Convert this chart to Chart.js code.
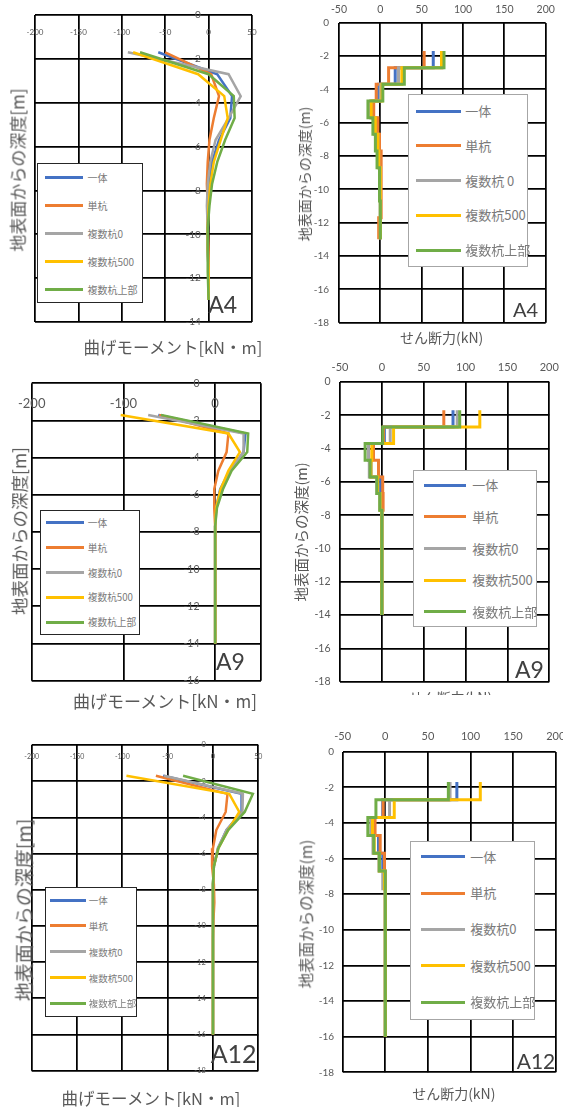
<!DOCTYPE html>
<html lang="ja">
<head>
<meta charset="utf-8">
<title>杭の曲げモーメント・せん断力分布</title>
<script src="https://cdn.jsdelivr.net/npm/chart.js@4.4.1/dist/chart.umd.min.js"></script>
<style>
  html, body { margin: 0; padding: 0; background: #fff; }
  body { position: relative; width: 563px; height: 1107px; overflow: hidden;
         font-family: "Noto Sans CJK JP", "Noto Sans", sans-serif; }
  .panel { position: absolute; }
  .panel canvas { position: absolute; left: 0; top: 0; }
  .axis-title { position: absolute; color: #595959; white-space: nowrap; line-height: 1;
                transform: translate(-50%, -50%); }
  .axis-title.vertical { transform: translate(-50%, -50%) rotate(-90deg); }
  .clip { position: absolute; overflow: hidden; }
  .legend { position: absolute; box-sizing: border-box; background: #fff; }
  .legend .item { position: absolute; left: 0; right: 0; height: 16px; }
  .legend .swatch { position: absolute; top: 6.5px; height: 3px; }
  .legend .label { position: absolute; top: 0; line-height: 16px; color: #7a7a7a; white-space: nowrap; }
  .tag { position: absolute; font-family: Lato, sans-serif; color: #404040; line-height: 1; white-space: nowrap; }
</style>
</head>
<body>
<script>
// 系列名と色
const seriesNames = ['一体', '単杭', '複数杭0', '複数杭500', '複数杭上部'];
const seriesNamesA4Shear = ['一体', '単杭', '複数杭 0', '複数杭500', '複数杭上部'];
const seriesColors = ['#4472C4', '#ED7D31', '#A5A5A5', '#FFC000', '#70AD47'];

// 深度 (m)
const depthA4 = [-1.7, -2.7, -3.7, -4.7, -5.7, -6.7, -7.7, -8.7, -9.7, -10.7, -11.7, -13];
const depthA9 = [-1.7, -2.7, -3.7, -4.7, -5.7, -6.7, -7.7, -8.7, -9.7, -10.7, -11.7, -12.7, -13.7, -14];
const depthA12 = [-1.7, -2.7, -3.7, -4.7, -5.7, -6.7, -7.7, -8.7, -9.7, -10.7, -11.7, -12.7, -13.7, -14.7, -15.7, -16];

// A4 曲げモーメント (kN・m)
const a4MomIttai   = [-58, 10, 27, 25, 12, 4, 0, -1, -1, -1, 0, 0];
const a4MomTangui  = [-50, 3, 12, 6, 1, -1, -2, -1, -1, 0, 0, 0];
const a4MomFuku0   = [-93, 23, 37, 23, 8, 2, -1, -2, -1, -1, 0, 0];
const a4MomFuku500 = [-87, -12, 18, 22, 14, 6, 2, 0, -1, -1, 0, 0];
const a4MomFukuTop = [-79, 0, 29, 30, 19, 10, 4, 1, -1, -1, -1, 0];

// A4 せん断力 (kN) 各区間の上端の値、最後は杭先端
const a4ShrIttai   = [64, 18, -2, -10, -5, -3, -1, 0, 0, 0, 0, 0];
const a4ShrTangui  = [53, 10, -5, -8, -3, -1, 1, 1, 1, 1, -2, -2];
const a4ShrFuku0   = [75, 22, 0, -12, -7, -3, -2, 0, 0, 0, 0, 0];
const a4ShrFuku500 = [74, 26, 2, -11, -6, -3, -2, 0, 0, 0, 0, 0];
const a4ShrFukuTop = [77, 29, 3, -15, -9, -6, -4, -1, -1, 0, 0, 0];

// A9 曲げモーメント
const a9MomIttai   = [-62, 33, 31, 16, 5.5, 1, 0, 0, 0, 0, 0, 0, 0, 0];
const a9MomTangui  = [-61, 14.5, 12.5, 3.5, -1, -1, 0, 0, 0, 0, 0, 0, 0, 0];
const a9MomFuku0   = [-73, 31, 31, 16, 6, 1.5, 0, 0, 0, 0, 0, 0, 0, 0];
const a9MomFuku500 = [-103, 14.5, 27, 14.5, 6, 1, 0, 0, 0, 0, 0, 0, 0, 0];
const a9MomFukuTop = [-59, 36, 35, 18, 8.5, 2, 0, 0, 0, 0, 0, 0, 0, 0];

// A9 せん断力
const a9ShrIttai   = [85, 3, -16, -13, -1.5, -2, 0, 0, 0, 0, 0, 0, 0, 0];
const a9ShrTangui  = [74, 2, -10, -4, 1, 1.5, 0, 0, 0, 0, 0, 0, 0, 0];
const a9ShrFuku0   = [90, 10, -16, -15, -6, -2, 0, 0, 0, 0, 0, 0, 0, 0];
const a9ShrFuku500 = [117, 14, -12, -13, -5, -2, 0, 0, 0, 0, 0, 0, 0, 0];
const a9ShrFukuTop = [93, 1, -20, -14, -6, -2.5, 0, 0, 0, 0, 0, 0, 0, 0];

// A12 曲げモーメント
const a12MomIttai   = [-55, 31.5, 31.5, 15, 5.5, 1, 0, 0, 0, 0, 0, 0, 0, 0, 0, 0];
const a12MomTangui  = [-63, 16, 14, 3.7, 0, -1, 1, 1.5, 0.5, 0, 0, 0, 0, 0, 0, 0];
const a12MomFuku0   = [-54, 33, 32.5, 15, 5.5, 1, 0, 0, 0, 0, 0, 0, 0, 0, 0, 0];
const a12MomFuku500 = [-95.5, 18, 29, 16.7, 6, 1, 0, 0, 0, 0, 0, 0, 0, 0, 0, 0];
const a12MomFukuTop = [-33, 44, 35, 16.7, 6, 1, 0, 0, 0, 0, 0, 0, 0, 0, 0, 0];

// A12 せん断力
const a12ShrIttai   = [84, -3, -13, -8, -3, -1, 0, 0, 0, 0, 0, 0, 0, 0, 0, 0];
const a12ShrTangui  = [75, -2.5, -12, -6, -1, 0, 0, 0, 0, 0, 0, 0, 0, 0, 0, 0];
const a12ShrFuku0   = [76, 5, -17, -14.5, -7.5, -3, 0, 0, 0, 0, 0, 0, 0, 0, 0, 0];
const a12ShrFuku500 = [111.5, 10.5, -15, -13, -7, -1, 0, 0, 0, 0, 0, 0, 0, 0, 0, 0];
const a12ShrFukuTop = [74, -11, -20.5, -13.5, -7, 0, 0, 0, 0, 0, 0, 0, 0, 0, 0, 0];

const tickColor = '#595959';
const gridOpts = { color: '#000', lineWidth: 1.75, drawTicks: false };

function toPoints(values, depths) {
    return values.map((v, i) => ({ x: v, y: depths[i] }));
}

// 曲げモーメント: 軸は 0 の位置で交差 (Excel 風)
function momentScales(p) {
    return {
        x: {
            type: 'linear', min: -200, max: 50, position: { y: 0 },
            border: { display: false },
            grid: gridOpts,
            ticks: {
                stepSize: p.xStep, padding: p.xPad, color: tickColor,
                autoSkip: false, maxRotation: 0, minRotation: 0,
                font: { family: 'Lato', size: p.xFont },
                callback: v => (p.hideX && p.hideX.includes(v)) ? '' : v
            }
        },
        y: {
            type: 'linear', min: p.yMin, max: 0, position: { x: p.yAt },
            border: { display: false },
            grid: gridOpts,
            ticks: {
                stepSize: 2, color: tickColor, autoSkip: false,
                font: { family: 'Lato', size: p.yFont }
            }
        }
    };
}

// せん断力: 目盛は外側 (上と左)
function shearScales(p) {
    return {
        x: {
            type: 'linear', min: -50, max: 200, position: 'top',
            border: { display: false },
            grid: gridOpts,
            ticks: {
                stepSize: 50, padding: p.xPad, color: tickColor,
                autoSkip: false, maxRotation: 0, minRotation: 0,
                font: { family: 'Lato', size: p.xFont }
            },
            afterFit: s => { s.height = p.axisH; s.paddingLeft = 0; s.paddingRight = 0; }
        },
        y: {
            type: 'linear', min: -18, max: 0, position: 'left',
            border: { display: false },
            grid: gridOpts,
            ticks: {
                stepSize: 2, padding: p.yPad, color: tickColor, autoSkip: false,
                font: { family: 'Lato', size: p.yFont }
            },
            afterFit: s => { s.width = p.axisW; s.paddingTop = 0; s.paddingBottom = 0; }
        }
    };
}

function addText(parent, cls, text, left, top, size) {
    const el = document.createElement('div');
    el.className = cls;
    el.textContent = text;
    el.style.left = left + 'px';
    el.style.top = top + 'px';
    el.style.fontSize = size + 'px';
    parent.appendChild(el);
    return el;
}

// HTML の凡例 (データセットから作る)
function buildLegend(chart, lg) {
    const box = document.createElement('div');
    box.className = 'legend';
    box.style.left = lg.x + 'px';
    box.style.top = lg.y + 'px';
    box.style.width = lg.w + 'px';
    box.style.height = lg.h + 'px';
    box.style.border = lg.border;
    chart.data.datasets.forEach((ds, i) => {
        const item = document.createElement('div');
        item.className = 'item';
        item.style.top = (lg.first + i * lg.step - 8 - 1.5) + 'px';
        const sw = document.createElement('span');
        sw.className = 'swatch';
        sw.style.left = (lg.lineX - 1.5) + 'px';
        sw.style.width = lg.lineW + 'px';
        sw.style.background = ds.borderColor;
        const lb = document.createElement('span');
        lb.className = 'label';
        lb.style.left = (lg.textX - 1.5) + 'px';
        lb.style.fontSize = lg.font + 'px';
        lb.textContent = ds.label;
        item.appendChild(sw);
        item.appendChild(lb);
        box.appendChild(item);
    });
    document.body.appendChild(box);
}

function addPanel(p) {
    const wrap = document.createElement('div');
    wrap.className = 'panel';
    wrap.style.left = p.box[0] + 'px';
    wrap.style.top = p.box[1] + 'px';
    wrap.style.width = p.box[2] + 'px';
    wrap.style.height = p.box[3] + 'px';
    const canvas = document.createElement('canvas');
    canvas.width = p.box[2];
    canvas.height = p.box[3];
    wrap.appendChild(canvas);
    document.body.appendChild(wrap);

    const datasets = p.series.map((vals, i) => ({
        label: p.names[i],
        data: toPoints(vals, p.depths),
        borderColor: seriesColors[i],
        backgroundColor: seriesColors[i],
        borderWidth: p.lineWidth,
        pointRadius: 0,
        showLine: true,
        tension: 0,
        stepped: p.shear ? 'after' : false,
        order: p.series.length - i
    }));

    const chart = new Chart(canvas.getContext('2d'), {
        type: 'scatter',
        data: { datasets: datasets },
        options: {
            responsive: false,
            animation: false,
            events: [],
            layout: { padding: p.padding },
            plugins: { legend: { display: false }, tooltip: { enabled: false } },
            scales: p.shear ? shearScales(p) : momentScales(p)
        }
    });

    buildLegend(chart, p.legend);

    addText(document.body, 'axis-title vertical', p.yTitle[0], p.yTitle[1], p.yTitle[2], p.yTitle[3]);
    let xParent = document.body;
    if (p.clipBottom) {
        xParent = document.createElement('div');
        xParent.className = 'clip';
        xParent.style.left = '0px';
        xParent.style.top = '0px';
        xParent.style.width = '563px';
        xParent.style.height = p.clipBottom + 'px';
        document.body.appendChild(xParent);
    }
    addText(xParent, 'axis-title', p.xTitle[0], p.xTitle[1], p.xTitle[2], p.xTitle[3]);
    addText(document.body, 'tag', p.tag[0], p.tag[1], p.tag[2] - 0.527 * p.tag[3], p.tag[3]);
}

const darkBorder = '1.5px solid #262626';
const greyBorder = '1.5px solid #a6a6a6';
const momTitle = '曲げモーメント[kN・m]';
const shrTitle = 'せん断力(kN)';

// A4
addPanel({
    box: [0, 0, 280, 360], padding: { left: 35, top: 15, right: 28, bottom: 38 },
    depths: depthA4, names: seriesNames, lineWidth: 2.5,
    series: [a4MomIttai, a4MomTangui, a4MomFuku0, a4MomFuku500, a4MomFukuTop],
    yMin: -14, xStep: 50, xFont: 8, xPad: 13, yFont: 10, yAt: -9,
    legend: { x: 37, y: 163, w: 106, h: 140, first: 15, step: 28, lineX: 8, lineW: 38, textX: 51, font: 10, border: darkBorder },
    yTitle: ['地表面からの深度[m]', 16.7, 170, 17], xTitle: [momTitle, 173, 346.7, 16.5],
    tag: ['A4', 208.3, 305, 23]
});
addPanel({
    box: [280, 0, 283, 360], padding: { left: 0, top: 0, right: 17.3, bottom: 37.3 },
    shear: true, axisW: 59, axisH: 22.7,
    depths: depthA4, names: seriesNamesA4Shear, lineWidth: 3,
    series: [a4ShrIttai, a4ShrTangui, a4ShrFuku0, a4ShrFuku500, a4ShrFukuTop],
    xFont: 10.5, xPad: 7, yFont: 10, yPad: 10,
    legend: { x: 407.7, y: 94.3, w: 120.3, h: 173, first: 17.4, step: 34.75, lineX: 9.3, lineW: 45, textX: 58, font: 13, border: greyBorder },
    yTitle: ['地表面からの深度(m)', 304, 174, 14], xTitle: [shrTitle, 441.7, 336.7, 14],
    tag: ['A4', 513, 309.2, 20]
});

// A9
addPanel({
    box: [0, 360, 280, 360], padding: { left: 31.7, top: 23.3, right: 19, bottom: 39.3 },
    depths: depthA9, names: seriesNames, lineWidth: 2.5,
    series: [a9MomIttai, a9MomTangui, a9MomFuku0, a9MomFuku500, a9MomFukuTop],
    yMin: -16, xStep: 100, hideX: [50], xFont: 13, xPad: 13, yFont: 10.5, yAt: -17,
    legend: { x: 40, y: 510, w: 100, h: 125, first: 13.3, step: 24.85, lineX: 6.7, lineW: 38.3, textX: 48.3, font: 9.7, border: darkBorder },
    yTitle: ['地表面からの深度[m]', 19, 531, 17.5], xTitle: [momTitle, 165, 700, 17],
    tag: ['A9', 216, 661.7, 23]
});
addPanel({
    box: [280, 360, 283, 360], padding: { left: 0, top: 0, right: 13.7, bottom: 38.3 },
    shear: true, axisW: 60, axisH: 22,
    depths: depthA9, names: seriesNames, lineWidth: 3,
    series: [a9ShrIttai, a9ShrTangui, a9ShrFuku0, a9ShrFuku500, a9ShrFukuTop],
    xFont: 11, xPad: 8, yFont: 10.5, yPad: 9.5,
    legend: { x: 413.3, y: 470, w: 123.4, h: 156.7, first: 15.7, step: 31.65, lineX: 11.7, lineW: 41.7, textX: 59.4, font: 13, border: greyBorder },
    yTitle: ['地表面からの深度(m)', 301, 532, 14.5], xTitle: [shrTitle, 450.5, 697, 14],
    clipBottom: 695,
    tag: ['A9', 515, 670, 23]
});

// A12
addPanel({
    box: [0, 720, 280, 387], padding: { left: 31.7, top: 25, right: 21.7, bottom: 36.3 },
    depths: depthA12, names: seriesNames, lineWidth: 2.5,
    series: [a12MomIttai, a12MomTangui, a12MomFuku0, a12MomFuku500, a12MomFukuTop],
    yMin: -18, xStep: 50, xFont: 7, xPad: 8, yFont: 7.5, yAt: -8,
    legend: { x: 45, y: 886.7, w: 91.7, h: 130, first: 14, step: 25.8, lineX: 5, lineW: 36, textX: 44.3, font: 9.5, border: darkBorder },
    yTitle: ['地表面からの深度[m]', 23, 910, 19], xTitle: [momTitle, 151, 1098, 16.5],
    tag: ['A12', 210.7, 1054, 25]
});
addPanel({
    box: [280, 720, 283, 387], padding: { left: 0, top: 0, right: 7.3, bottom: 34.7 },
    shear: true, axisW: 62.7, axisH: 31.7,
    depths: depthA12, names: seriesNames, lineWidth: 3,
    series: [a12ShrIttai, a12ShrTangui, a12ShrFuku0, a12ShrFuku500, a12ShrFukuTop],
    xFont: 11, xPad: 8.4, yFont: 10, yPad: 8.7,
    legend: { x: 410, y: 840.7, w: 125, h: 179.3, first: 16.6, step: 36.35, lineX: 11.7, lineW: 44.3, textX: 60.7, font: 13, border: greyBorder },
    yTitle: ['地表面からの深度(m)', 305.5, 914, 15.5], xTitle: [shrTitle, 453.8, 1092.5, 14],
    tag: ['A12', 516.7, 1060.8, 21]
});
</script>
</body>
</html>
